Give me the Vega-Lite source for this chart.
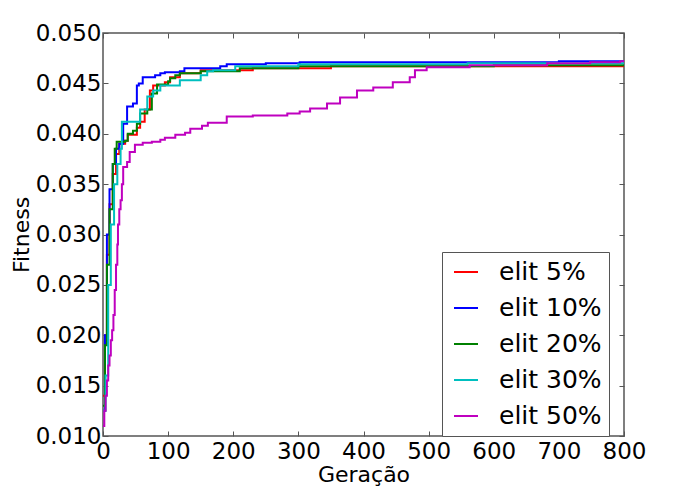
{
  "$schema": "https://vega.github.io/schema/vega-lite/v6.json",
  "width": 521,
  "height": 403,
  "autosize": {"type": "none"},
  "padding": {"left": 103, "top": 33, "right": 59, "bottom": 53},
  "background": "white",
  "config": {
    "view": {"stroke": "#555", "strokeWidth": 1.5},
    "font": "DejaVu Sans",
    "axis": {
      "labelFont": "DejaVu Sans", "titleFont": "DejaVu Sans",
      "labelFontSize": 23, "titleFontSize": 22, "titleFontWeight": "normal",
      "labelColor": "black", "titleColor": "black",
      "grid": false, "domain": false,
      "tickColor": "#555", "tickSize": -5, "tickWidth": 1
    }
  },
  "data": {"values": [
    {"g":0,"f":0.014,"s":"elit 5%"},{"g":3,"f":0.020,"s":"elit 5%"},{"g":6,"f":0.028,"s":"elit 5%"},{"g":10,"f":0.033,"s":"elit 5%"},{"g":15,"f":0.036,"s":"elit 5%"},{"g":20,"f":0.038,"s":"elit 5%"},{"g":25,"f":0.039,"s":"elit 5%"},{"g":34,"f":0.0393,"s":"elit 5%"},{"g":38,"f":0.0399,"s":"elit 5%"},{"g":52,"f":0.0406,"s":"elit 5%"},{"g":57,"f":0.0412,"s":"elit 5%"},{"g":64,"f":0.0424,"s":"elit 5%"},{"g":72,"f":0.0443,"s":"elit 5%"},{"g":77,"f":0.0448,"s":"elit 5%"},{"g":95,"f":0.0451,"s":"elit 5%"},{"g":103,"f":0.0456,"s":"elit 5%"},{"g":118,"f":0.046,"s":"elit 5%"},{"g":150,"f":0.0463,"s":"elit 5%"},{"g":230,"f":0.0465,"s":"elit 5%"},{"g":350,"f":0.0467,"s":"elit 5%"},{"g":800,"f":0.0468,"s":"elit 5%"},
    {"g":0,"f":0.0125,"s":"elit 10%"},{"g":3,"f":0.020,"s":"elit 10%"},{"g":6,"f":0.030,"s":"elit 10%"},{"g":10,"f":0.0345,"s":"elit 10%"},{"g":15,"f":0.037,"s":"elit 10%"},{"g":20,"f":0.0385,"s":"elit 10%"},{"g":25,"f":0.039,"s":"elit 10%"},{"g":31,"f":0.041,"s":"elit 10%"},{"g":37,"f":0.0427,"s":"elit 10%"},{"g":46,"f":0.043,"s":"elit 10%"},{"g":52,"f":0.0448,"s":"elit 10%"},{"g":55,"f":0.045,"s":"elit 10%"},{"g":61,"f":0.0456,"s":"elit 10%"},{"g":80,"f":0.0458,"s":"elit 10%"},{"g":88,"f":0.046,"s":"elit 10%"},{"g":95,"f":0.0461,"s":"elit 10%"},{"g":118,"f":0.0462,"s":"elit 10%"},{"g":125,"f":0.0465,"s":"elit 10%"},{"g":180,"f":0.0467,"s":"elit 10%"},{"g":190,"f":0.0469,"s":"elit 10%"},{"g":250,"f":0.047,"s":"elit 10%"},{"g":302,"f":0.0471,"s":"elit 10%"},{"g":700,"f":0.0472,"s":"elit 10%"},{"g":800,"f":0.0472,"s":"elit 10%"},
    {"g":0,"f":0.013,"s":"elit 20%"},{"g":3,"f":0.019,"s":"elit 20%"},{"g":6,"f":0.027,"s":"elit 20%"},{"g":10,"f":0.0325,"s":"elit 20%"},{"g":15,"f":0.037,"s":"elit 20%"},{"g":18,"f":0.0385,"s":"elit 20%"},{"g":21,"f":0.0392,"s":"elit 20%"},{"g":34,"f":0.0393,"s":"elit 20%"},{"g":38,"f":0.040,"s":"elit 20%"},{"g":46,"f":0.0403,"s":"elit 20%"},{"g":52,"f":0.041,"s":"elit 20%"},{"g":57,"f":0.042,"s":"elit 20%"},{"g":68,"f":0.0424,"s":"elit 20%"},{"g":75,"f":0.044,"s":"elit 20%"},{"g":83,"f":0.0449,"s":"elit 20%"},{"g":100,"f":0.0452,"s":"elit 20%"},{"g":103,"f":0.0455,"s":"elit 20%"},{"g":111,"f":0.0458,"s":"elit 20%"},{"g":118,"f":0.046,"s":"elit 20%"},{"g":150,"f":0.0462,"s":"elit 20%"},{"g":210,"f":0.0465,"s":"elit 20%"},{"g":300,"f":0.0467,"s":"elit 20%"},{"g":600,"f":0.0468,"s":"elit 20%"},{"g":800,"f":0.0469,"s":"elit 20%"},
    {"g":0,"f":0.0125,"s":"elit 30%"},{"g":4,"f":0.016,"s":"elit 30%"},{"g":8,"f":0.025,"s":"elit 30%"},{"g":12,"f":0.031,"s":"elit 30%"},{"g":17,"f":0.035,"s":"elit 30%"},{"g":22,"f":0.037,"s":"elit 30%"},{"g":27,"f":0.0385,"s":"elit 30%"},{"g":29,"f":0.0412,"s":"elit 30%"},{"g":49,"f":0.0412,"s":"elit 30%"},{"g":57,"f":0.0424,"s":"elit 30%"},{"g":68,"f":0.0437,"s":"elit 30%"},{"g":77,"f":0.0443,"s":"elit 30%"},{"g":88,"f":0.0448,"s":"elit 30%"},{"g":118,"f":0.0453,"s":"elit 30%"},{"g":150,"f":0.0458,"s":"elit 30%"},{"g":160,"f":0.0462,"s":"elit 30%"},{"g":169,"f":0.0463,"s":"elit 30%"},{"g":203,"f":0.0467,"s":"elit 30%"},{"g":300,"f":0.0469,"s":"elit 30%"},{"g":560,"f":0.047,"s":"elit 30%"},{"g":800,"f":0.0471,"s":"elit 30%"},
    {"g":0,"f":0.011,"s":"elit 50%"},{"g":2,"f":0.0125,"s":"elit 50%"},{"g":4,"f":0.014,"s":"elit 50%"},{"g":6,"f":0.0155,"s":"elit 50%"},{"g":8,"f":0.017,"s":"elit 50%"},{"g":10,"f":0.018,"s":"elit 50%"},{"g":12,"f":0.0195,"s":"elit 50%"},{"g":14,"f":0.0205,"s":"elit 50%"},{"g":16,"f":0.022,"s":"elit 50%"},{"g":18,"f":0.0245,"s":"elit 50%"},{"g":20,"f":0.027,"s":"elit 50%"},{"g":22,"f":0.029,"s":"elit 50%"},{"g":23,"f":0.031,"s":"elit 50%"},{"g":25,"f":0.0325,"s":"elit 50%"},{"g":27,"f":0.0334,"s":"elit 50%"},{"g":29,"f":0.035,"s":"elit 50%"},{"g":31,"f":0.0367,"s":"elit 50%"},{"g":37,"f":0.0372,"s":"elit 50%"},{"g":41,"f":0.0382,"s":"elit 50%"},{"g":49,"f":0.0389,"s":"elit 50%"},{"g":61,"f":0.0391,"s":"elit 50%"},{"g":75,"f":0.0392,"s":"elit 50%"},{"g":88,"f":0.0394,"s":"elit 50%"},{"g":95,"f":0.0396,"s":"elit 50%"},{"g":111,"f":0.0399,"s":"elit 50%"},{"g":126,"f":0.0401,"s":"elit 50%"},{"g":134,"f":0.0405,"s":"elit 50%"},{"g":152,"f":0.0408,"s":"elit 50%"},{"g":161,"f":0.0411,"s":"elit 50%"},{"g":190,"f":0.0417,"s":"elit 50%"},{"g":230,"f":0.0418,"s":"elit 50%"},{"g":283,"f":0.042,"s":"elit 50%"},{"g":302,"f":0.0422,"s":"elit 50%"},{"g":318,"f":0.0425,"s":"elit 50%"},{"g":344,"f":0.043,"s":"elit 50%"},{"g":364,"f":0.0436,"s":"elit 50%"},{"g":390,"f":0.0443,"s":"elit 50%"},{"g":415,"f":0.0446,"s":"elit 50%"},{"g":445,"f":0.0451,"s":"elit 50%"},{"g":471,"f":0.0456,"s":"elit 50%"},{"g":479,"f":0.0463,"s":"elit 50%"},{"g":497,"f":0.0466,"s":"elit 50%"},{"g":563,"f":0.0468,"s":"elit 50%"},{"g":682,"f":0.047,"s":"elit 50%"},{"g":748,"f":0.0471,"s":"elit 50%"},{"g":794,"f":0.0472,"s":"elit 50%"},{"g":800,"f":0.0473,"s":"elit 50%"}
  ]},
  "layer": [
    {
      "mark": {"type": "line", "interpolate": "step-after", "strokeWidth": 2, "clip": true},
      "encoding": {
        "x": {"field": "g", "type": "quantitative", "title": "Geração",
              "scale": {"domain": [0, 800], "nice": false},
              "axis": {"orient": "bottom", "values": [0,100,200,300,400,500,600,700,800], "labelPadding": 9, "titlePadding": 1, "labelFlush": false}},
        "y": {"field": "f", "type": "quantitative", "title": "Fitness",
              "scale": {"domain": [0.010, 0.050], "nice": false, "zero": false},
              "axis": {"orient": "left", "values": [0.010,0.015,0.020,0.025,0.030,0.035,0.040,0.045,0.050], "format": ".3f", "labelPadding": 7, "titlePadding": 2, "labelFlush": false}},
        "color": {"field": "s", "type": "nominal",
                  "scale": {"domain": ["elit 5%","elit 10%","elit 20%","elit 30%","elit 50%"], "range": ["#ff0000","#0000ff","#008000","#00bfbf","#bf00bf"]},
                  "legend": {"title": null, "orient": "none", "legendX": 339, "legendY": 219,
                             "symbolType": "stroke", "symbolSize": 576, "symbolStrokeWidth": 2, "symbolOffset": 4,
                             "labelFontSize": 25, "labelFont": "DejaVu Sans", "labelColor": "black",
                             "rowPadding": 10, "labelOffset": 20, "padding": 7,
                             "strokeColor": "#555", "fillColor": "white"}}
      }
    },
    {
      "mark": {"type": "line", "opacity": 0},
      "encoding": {
        "x": {"field": "g", "type": "quantitative", "axis": {"orient": "top", "labels": false, "title": null, "values": [0,100,200,300,400,500,600,700,800]}},
        "y": {"field": "f", "type": "quantitative", "axis": {"orient": "right", "labels": false, "title": null, "values": [0.010,0.015,0.020,0.025,0.030,0.035,0.040,0.045,0.050]}}
      }
    }
  ]
}
